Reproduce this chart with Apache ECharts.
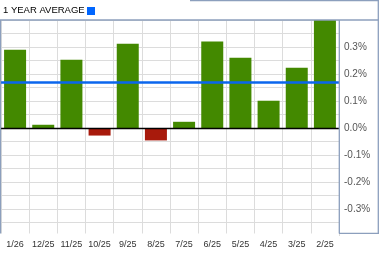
<!DOCTYPE html>
<html>
<head>
<meta charset="utf-8">
<script src="https://cdn.jsdelivr.net/npm/echarts@6/dist/echarts.min.js"></script>
<style>
html,body{margin:0;padding:0;background:#fff;}
#c{width:379px;height:255px;}
</style>
</head>
<body>
<div id="c"></div>
<script>
var categories = ['1/26','12/25','11/25','10/25','9/25','8/25','7/25','6/25','5/25','4/25','3/25','2/25'];
var returns = [0.290, 0.012, 0.253, -0.028, 0.312, -0.046, 0.023, 0.320, 0.260, 0.101, 0.223, 0.430];
var average = 0.1715;
var titleText = '1 YEAR AVERAGE';

var GREEN = '#438900', RED = '#a81a0c', BLUE = '#0a66ee', BORDER = '#8c9fbd', GRID = '#dcdcdc';

var chart = echarts.init(document.getElementById('c'), null, {renderer: 'canvas'});
chart.setOption({
  animation: false,
  backgroundColor: '#fff',
  title: {
    text: titleText, left: 3, top: 5, padding: 0,
    textStyle: {fontFamily: 'Liberation Sans, Arial, sans-serif', fontSize: 9.5, fontWeight: 'normal', color: '#000'}
  },
  grid: {left: 1, right: 40, top: 20, height: 216, containLabel: false},
  xAxis: {
    type: 'category', data: categories, boundaryGap: true,
    axisLine: {show: false}, axisTick: {show: false},
    splitLine: {show: true, interval: 0, lineStyle: {color: GRID, width: 1}},
    axisLabel: {interval: 0, margin: 4, color: '#333', fontSize: 9,
      fontFamily: 'Liberation Sans Narrow, Liberation Sans, Arial, sans-serif'}
  },
  yAxis: {
    type: 'value', position: 'right', min: -0.4, max: 0.4, interval: 0.05,
    axisLine: {show: false}, axisTick: {show: false},
    splitLine: {show: true, lineStyle: {color: GRID, width: 1}},
    axisLabel: {margin: 5, color: '#555', fontSize: 10, fontFamily: 'Liberation Sans, Arial, sans-serif',
      formatter: function (v) {
        var n = Math.round(v * 100);
        if (n % 10 !== 0 || Math.abs(n) > 30) return '';
        return (n / 100).toFixed(1) + '%';
      }}
  },
  series: [{
    type: 'bar', data: returns, barWidth: 22, clip: true,
    itemStyle: {color: function (p) { return p.value < 0 ? RED : GREEN; }},
    markLine: {
      silent: true, symbol: 'none', label: {show: false},
      data: [
        {yAxis: 0, lineStyle: {color: '#000', width: 1.3, type: 'solid'}},
        {yAxis: average, lineStyle: {color: BLUE, width: 2.7, type: 'solid'}}
      ]
    }
  }],
  graphic: [
    {type: 'rect', z: 100, shape: {x: 0, y: 233.5, width: 339, height: 4}, style: {fill: '#fff'}},
    {type: 'rect', z: 101, shape: {x: 87, y: 7, width: 8, height: 8}, style: {fill: '#0066ff'}},
    {type: 'line', z: 102, shape: {x1: 0, y1: 20, x2: 379, y2: 20}, style: {stroke: BORDER, lineWidth: 1.3}},
    {type: 'line', z: 102, shape: {x1: 190, y1: 0.5, x2: 379, y2: 0.5}, style: {stroke: BORDER, lineWidth: 1.3}},
    {type: 'line', z: 102, shape: {x1: 378.3, y1: 0, x2: 378.3, y2: 233.5}, style: {stroke: BORDER, lineWidth: 1.3}},
    {type: 'line', z: 102, shape: {x1: 0.5, y1: 20, x2: 0.5, y2: 233.5}, style: {stroke: BORDER, lineWidth: 1.3}},
    {type: 'line', z: 102, shape: {x1: 339.3, y1: 20, x2: 339.3, y2: 233.5}, style: {stroke: BORDER, lineWidth: 1.3}},
    {type: 'line', z: 102, shape: {x1: 339, y1: 233.3, x2: 379, y2: 233.3}, style: {stroke: BORDER, lineWidth: 1.3}}
  ]
});
</script>
</body>
</html>
